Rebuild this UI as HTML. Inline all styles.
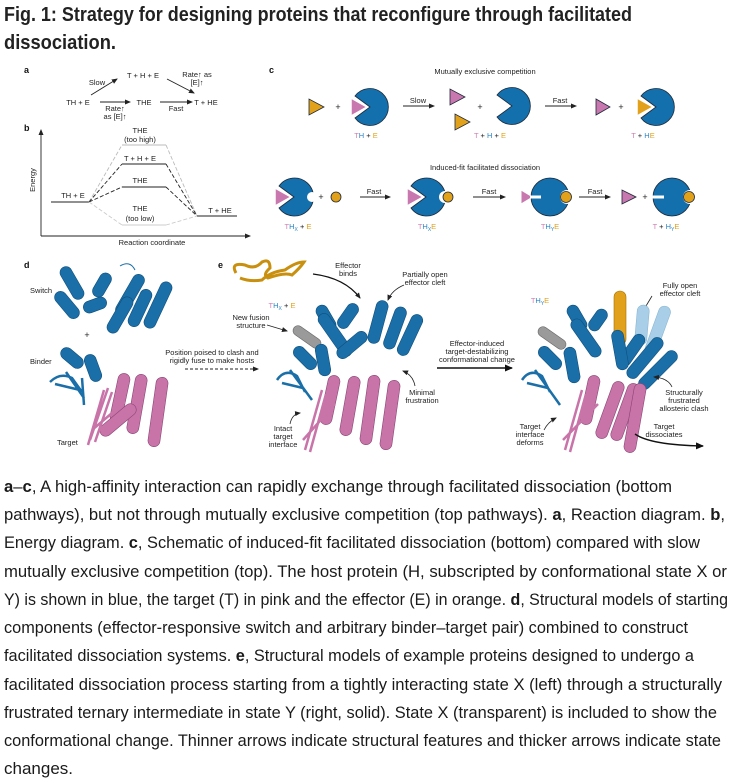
<!DOCTYPE html>
<html><head><meta charset="utf-8">
<style>
html,body{margin:0;padding:0;background:#fff;}
svg{display:block;}
.t{font-family:"Liberation Sans",sans-serif;font-size:7.5px;fill:#222;}
.lbl{font-family:"Liberation Sans",sans-serif;font-size:9px;font-weight:bold;fill:#111;}
.cap{font-family:"Liberation Sans",sans-serif;font-size:17px;fill:#1a1a1a;}
</style></head>
<body>
<svg width="730" height="783" viewBox="0 0 730 783" xmlns="http://www.w3.org/2000/svg">
<defs>
<marker id="ah" markerWidth="6" markerHeight="6" refX="5" refY="3" orient="auto" markerUnits="userSpaceOnUse"><path d="M0,0.5 L6,3 L0,5.5 Z" fill="#222"/></marker>
<marker id="ahb" markerWidth="8" markerHeight="8" refX="7" refY="4" orient="auto" markerUnits="userSpaceOnUse"><path d="M0,0.5 L8,4 L0,7.5 Z" fill="#111"/></marker>
</defs>
<text x="4" y="21" textLength="628" lengthAdjust="spacingAndGlyphs" style="font-family:'Liberation Sans Narrow','Liberation Sans',sans-serif;font-weight:bold;font-size:20px;fill:#222">Fig. 1: Strategy for designing proteins that reconfigure through facilitated</text>
<text x="4" y="49" textLength="112" lengthAdjust="spacingAndGlyphs" style="font-family:'Liberation Sans Narrow','Liberation Sans',sans-serif;font-weight:bold;font-size:20px;fill:#222">dissociation.</text>

<text class="lbl" x="24" y="73">a</text>
<text class="t" x="143" y="78" text-anchor="middle">T + H + E</text>
<text class="t" x="97" y="85" text-anchor="middle">Slow</text>
<text class="t" x="197" y="77" text-anchor="middle">Rate↑ as</text>
<text class="t" x="197" y="85" text-anchor="middle">[E]↑</text>
<text class="t" x="78" y="105" text-anchor="middle">TH + E</text>
<text class="t" x="144" y="105" text-anchor="middle">THE</text>
<text class="t" x="206" y="105" text-anchor="middle">T + HE</text>
<text class="t" x="115" y="111" text-anchor="middle">Rate↑</text>
<text class="t" x="115" y="119" text-anchor="middle">as [E]↑</text>
<text class="t" x="176" y="111" text-anchor="middle">Fast</text>
<g stroke="#222" stroke-width="0.9" fill="none">
<line x1="91" y1="95" x2="117" y2="79" marker-end="url(#ah)"/>
<line x1="167" y1="79" x2="194" y2="93" marker-end="url(#ah)"/>
<line x1="100" y1="102" x2="130" y2="102" marker-end="url(#ah)"/>
<line x1="160" y1="102" x2="192" y2="102" marker-end="url(#ah)"/>
</g>

<text class="lbl" x="24" y="131">b</text>
<g stroke="#222" stroke-width="0.9" fill="none">
<line x1="41" y1="236" x2="41" y2="130" marker-end="url(#ah)"/>
<line x1="41" y1="236" x2="250" y2="236" marker-end="url(#ah)"/>
</g>
<text class="t" transform="translate(35,180) rotate(-90)" text-anchor="middle">Energy</text>
<text class="t" x="152" y="245" text-anchor="middle">Reaction coordinate</text>
<g stroke-width="1">
<line x1="51" y1="202" x2="89" y2="202" stroke="#222"/>
<line x1="197" y1="216" x2="237" y2="216" stroke="#222"/>
<line x1="122" y1="145" x2="166" y2="145" stroke="#bbb"/>
<line x1="122" y1="164" x2="166" y2="164" stroke="#222"/>
<line x1="122" y1="187" x2="166" y2="187" stroke="#222"/>
<line x1="122" y1="225" x2="166" y2="225" stroke="#ccc"/>
</g>
<g fill="none" stroke-dasharray="4,2" stroke-width="0.9">
<path d="M89,202 L122,145 M166,145 L197,216" stroke="#bbb"/>
<path d="M89,202 L122,164 M166,164 L197,216" stroke="#222"/>
<path d="M89,202 L122,187 M166,187 L197,216" stroke="#222"/>
<path d="M89,202 L122,225 M166,225 L197,216" stroke="#ccc"/>
</g>
<text class="t" x="73" y="198" text-anchor="middle">TH + E</text>
<text class="t" x="220" y="213" text-anchor="middle">T + HE</text>
<text class="t" x="140" y="133" text-anchor="middle">THE</text>
<text class="t" x="140" y="142" text-anchor="middle">(too high)</text>
<text class="t" x="140" y="161" text-anchor="middle">T + H + E</text>
<text class="t" x="140" y="183" text-anchor="middle">THE</text>
<text class="t" x="140" y="211" text-anchor="middle">THE</text>
<text class="t" x="140" y="221" text-anchor="middle">(too low)</text>

<text class="lbl" x="269" y="73">c</text>
<text class="t" x="485" y="74" text-anchor="middle">Mutually exclusive competition</text>
<g stroke="#1d2a3a" stroke-width="0.8">
<polygon points="309,99 309,115 324,107" fill="#e2a11a"/>
<path d="M370,107 L355,96 A18.5,18.5 0 1 1 355,118 Z" fill="#1470ad"/>
<polygon points="351,98 351,116 367,107" fill="#c878ae" stroke="#fff" stroke-width="1.5"/>
<polygon points="450,89 450,105 465,97" fill="#c878ae"/>
<polygon points="455,114 455,130 470,122" fill="#e2a11a"/>
<path d="M512,106 L497,95 A18.5,18.5 0 1 1 497,117 Z" fill="#1470ad"/>
<polygon points="596,99 596,115 610,107" fill="#c878ae"/>
<path d="M656,107 L641,96 A18.5,18.5 0 1 1 641,118 Z" fill="#1470ad"/>
<polygon points="637,98 637,116 653,107" fill="#e2a11a" stroke="#fff" stroke-width="1.5"/>
<path d="M294,197 L279,186 A19,19 0 1 1 279,208 Z" fill="#1470ad"/>
<circle cx="312" cy="197" r="5" fill="#fff" stroke="none"/>
<polygon points="275,188 275,206 291,197" fill="#c878ae" stroke="#fff" stroke-width="1.5"/>
<circle cx="336" cy="197" r="5" fill="#e2a11a"/>
<path d="M426,197 L411,186 A19,19 0 1 1 411,208 Z" fill="#1470ad"/>
<circle cx="445" cy="197" r="6" fill="#fff" stroke="none"/>
<circle cx="448" cy="197" r="5" fill="#e2a11a"/>
<polygon points="407,188 407,206 423,197" fill="#c878ae" stroke="#fff" stroke-width="1.5"/>
<circle cx="550" cy="197" r="19" fill="#1470ad"/>
<polygon points="521,190 531,196 531,198 521,204" fill="#c878ae" stroke="#fff" stroke-width="1"/>
<rect x="530" y="195.5" width="11" height="3" fill="#fff" stroke="none"/>
<circle cx="567" cy="197" r="7" fill="#fff" stroke="none"/>
<circle cx="566" cy="197" r="5.5" fill="#e2a11a"/>
<polygon points="622,190 622,204 636,197" fill="#c878ae"/>
<circle cx="672" cy="197" r="19" fill="#1470ad"/>
<rect x="652" y="195.5" width="12" height="3" fill="#fff" stroke="none"/>
<circle cx="690" cy="197" r="7" fill="#fff" stroke="none"/>
<circle cx="689" cy="197" r="5.5" fill="#e2a11a"/>
</g>
<g class="t" style="font-size:9px">
<text x="338" y="110" text-anchor="middle">+</text>
<text x="480" y="110" text-anchor="middle">+</text>
<text x="621" y="110" text-anchor="middle">+</text>
<text x="321" y="200" text-anchor="middle">+</text>
<text x="645" y="200" text-anchor="middle">+</text>
</g>
<g stroke="#222" stroke-width="0.9">
<line x1="403" y1="106" x2="434" y2="106" marker-end="url(#ah)"/>
<line x1="545" y1="106" x2="576" y2="106" marker-end="url(#ah)"/>
<line x1="360" y1="197" x2="390" y2="197" marker-end="url(#ah)"/>
<line x1="473" y1="197" x2="505" y2="197" marker-end="url(#ah)"/>
<line x1="579" y1="197" x2="610" y2="197" marker-end="url(#ah)"/>
</g>
<text class="t" x="418" y="103" text-anchor="middle">Slow</text>
<text class="t" x="560" y="103" text-anchor="middle">Fast</text>
<text class="t" x="374" y="194" text-anchor="middle">Fast</text>
<text class="t" x="489" y="194" text-anchor="middle">Fast</text>
<text class="t" x="595" y="194" text-anchor="middle">Fast</text>
<text class="t" x="366" y="138" text-anchor="middle"><tspan fill="#d07fb3">T</tspan><tspan fill="#2a86c6">H</tspan> + <tspan fill="#e2a11a">E</tspan></text>
<text class="t" x="490" y="138" text-anchor="middle"><tspan fill="#d07fb3">T</tspan> + <tspan fill="#2a86c6">H</tspan> + <tspan fill="#e2a11a">E</tspan></text>
<text class="t" x="643" y="138" text-anchor="middle"><tspan fill="#d07fb3">T</tspan> + <tspan fill="#2a86c6">H</tspan><tspan fill="#e2a11a">E</tspan></text>
<text class="t" x="485" y="170" text-anchor="middle">Induced-fit facilitated dissociation</text>
<text class="t" x="298" y="229" text-anchor="middle"><tspan fill="#d07fb3">T</tspan><tspan fill="#2a86c6">H<tspan font-size="5" dy="2">X</tspan></tspan><tspan dy="-2"> + </tspan><tspan fill="#e2a11a">E</tspan></text>
<text class="t" x="427" y="229" text-anchor="middle"><tspan fill="#d07fb3">T</tspan><tspan fill="#2a86c6">H<tspan font-size="5" dy="2">X</tspan></tspan><tspan fill="#e2a11a" dy="-2">E</tspan></text>
<text class="t" x="550" y="229" text-anchor="middle"><tspan fill="#d07fb3">T</tspan><tspan fill="#2a86c6">H<tspan font-size="5" dy="2">Y</tspan></tspan><tspan fill="#e2a11a" dy="-2">E</tspan></text>
<text class="t" x="666" y="229" text-anchor="middle"><tspan fill="#d07fb3">T</tspan> + <tspan fill="#2a86c6">H<tspan font-size="5" dy="2">Y</tspan></tspan><tspan fill="#e2a11a" dy="-2">E</tspan></text>

<text class="lbl" x="24" y="268">d</text>
<text class="t" x="30" y="293">Switch</text>
<text class="t" x="87" y="338" text-anchor="middle" style="font-size:9px">+</text>
<text class="t" x="30" y="364">Binder</text>
<text class="t" x="57" y="445">Target</text>
<g stroke="#0f4f7c" stroke-width="0.6">
<g fill="#1a6fa8">
<rect x="-6" y="-18" width="12" height="36" rx="6" transform="translate(72,283) rotate(-30)"/>
<rect x="-6" y="-16" width="12" height="32" rx="6" transform="translate(67,305) rotate(-40)"/>
<rect x="-6" y="-13" width="12" height="26" rx="6" transform="translate(102,285) rotate(30)"/>
<rect x="-6" y="-12" width="12" height="24" rx="6" transform="translate(95,305) rotate(70)"/>
<rect x="-6" y="-23" width="12" height="46" rx="6" transform="translate(130,295) rotate(30)"/>
<rect x="-6" y="-20" width="12" height="40" rx="6" transform="translate(140,308) rotate(25)"/>
<rect x="-6" y="-25" width="12" height="50" rx="6" transform="translate(158,305) rotate(25)"/>
<rect x="-6" y="-20" width="12" height="40" rx="6" transform="translate(120,315) rotate(30)"/>
<rect x="-6" y="-13" width="12" height="26" rx="6" transform="translate(72,358) rotate(-50)"/>
<rect x="-6" y="-14" width="12" height="28" rx="6" transform="translate(93,368) rotate(-20)"/>
</g>
<path d="M50,382 Q60,372 72,378 L82,392 M55,384 L80,390 M66,372 L84,398 M82,378 L84,405" stroke="#1a6fa8" stroke-width="2.5" fill="none"/>
<path d="M120,266 Q130,260 135,270" fill="none" stroke="#1a6fa8" stroke-width="1"/>
<g fill="#c874a9" stroke="#8a4574">
<rect x="-6" y="-25" width="12" height="50" rx="6" transform="translate(120,398) rotate(12)"/>
<rect x="-6" y="-30" width="12" height="60" rx="6" transform="translate(137,404) rotate(10)"/>
<rect x="-6" y="-35" width="12" height="70" rx="6" transform="translate(158,412) rotate(8)"/>
<rect x="-6" y="-22" width="12" height="44" rx="6" transform="translate(118,420) rotate(50)"/>
</g>
<path d="M90,440 L108,388 M95,442 L112,392 M92,430 L125,402 M88,445 L104,390" stroke="#c874a9" stroke-width="2.5" fill="none"/>
</g>

<text class="t" x="212" y="355" text-anchor="middle">Position poised to clash and</text>
<text class="t" x="212" y="363" text-anchor="middle">rigidly fuse to make hosts</text>
<line x1="185" y1="369" x2="258" y2="369" stroke="#222" stroke-width="0.9" stroke-dasharray="3,2" marker-end="url(#ah)"/>

<text class="lbl" x="218" y="268">e</text>
<path d="M236,273 Q230,262 245,265 Q255,270 262,262 Q270,258 270,268 Q262,275 268,278 Q285,272 292,275 Q300,268 304,262 Q296,262 285,270 Q270,272 262,280 Q250,282 240,278" fill="none" stroke="#c8900e" stroke-width="3"/>
<text class="t" x="348" y="268" text-anchor="middle">Effector</text>
<text class="t" x="348" y="276" text-anchor="middle">binds</text>
<path d="M313,274 Q345,278 360,298" fill="none" stroke="#111" stroke-width="1.2" marker-end="url(#ah)"/>
<text class="t" x="282" y="308" text-anchor="middle"><tspan fill="#d07fb3">T</tspan><tspan fill="#2a86c6">H<tspan font-size="5" dy="2">X</tspan></tspan><tspan dy="-2"> + </tspan><tspan fill="#e2a11a">E</tspan></text>
<text class="t" x="251" y="320" text-anchor="middle">New fusion</text>
<text class="t" x="251" y="328" text-anchor="middle">structure</text>
<line x1="267" y1="325" x2="287" y2="331" stroke="#222" stroke-width="0.8" marker-end="url(#ah)"/>
<text class="t" x="425" y="277" text-anchor="middle">Partially open</text>
<text class="t" x="425" y="285" text-anchor="middle">effector cleft</text>
<path d="M404,285 Q392,290 388,300" fill="none" stroke="#222" stroke-width="0.8" marker-end="url(#ah)"/>
<g stroke="#0f4f7c" stroke-width="0.6">
<rect x="-5" y="-16" width="10" height="32" rx="5" transform="translate(307,337) rotate(-55)" fill="#9a9a9a" stroke="#666"/>
<g fill="#1a6fa8">
<rect x="-6" y="-14" width="12" height="28" rx="6" transform="translate(326,318) rotate(-30)"/>
<rect x="-6" y="-14" width="12" height="28" rx="6" transform="translate(348,316) rotate(35)"/>
<rect x="-6" y="-25" width="12" height="50" rx="6" transform="translate(335,335) rotate(-35)"/>
<rect x="-6" y="-14" width="12" height="28" rx="6" transform="translate(305,358) rotate(-45)"/>
<rect x="-6" y="-16" width="12" height="32" rx="6" transform="translate(323,360) rotate(-10)"/>
<rect x="-6" y="-18" width="12" height="36" rx="6" transform="translate(352,345) rotate(50)"/>
<rect x="-6" y="-22" width="12" height="44" rx="6" transform="translate(378,322) rotate(15)"/>
<rect x="-6" y="-22" width="12" height="44" rx="6" transform="translate(395,328) rotate(20)"/>
<rect x="-6" y="-22" width="12" height="44" rx="6" transform="translate(410,335) rotate(25)"/>
</g>
<path d="M277,380 Q285,368 297,376 L305,392 M282,383 L303,388 M290,370 L312,400" stroke="#1a6fa8" stroke-width="2.5" fill="none"/>
<g fill="#c874a9" stroke="#8a4574">
<rect x="-6" y="-25" width="12" height="50" rx="6" transform="translate(330,400) rotate(12)"/>
<rect x="-6" y="-30" width="12" height="60" rx="6" transform="translate(350,406) rotate(10)"/>
<rect x="-6" y="-35" width="12" height="70" rx="6" transform="translate(370,410) rotate(8)"/>
<rect x="-6" y="-35" width="12" height="70" rx="6" transform="translate(390,415) rotate(8)"/>
</g>
<path d="M305,450 L322,390 M310,452 L326,394 M303,440 L335,404" stroke="#c874a9" stroke-width="2.5" fill="none"/>
</g>
<text class="t" x="283" y="431" text-anchor="middle">Intact</text>
<text class="t" x="283" y="439" text-anchor="middle">target</text>
<text class="t" x="283" y="447" text-anchor="middle">interface</text>
<path d="M290,424 Q292,414 300,413" fill="none" stroke="#222" stroke-width="0.8" marker-end="url(#ah)"/>
<text class="t" x="422" y="395" text-anchor="middle">Minimal</text>
<text class="t" x="422" y="403" text-anchor="middle">frustration</text>
<path d="M415,386 Q413,375 403,371" fill="none" stroke="#222" stroke-width="0.8" marker-end="url(#ah)"/>

<text class="t" x="477" y="346" text-anchor="middle">Effector-induced</text>
<text class="t" x="477" y="354" text-anchor="middle">target-destabilizing</text>
<text class="t" x="477" y="362" text-anchor="middle">conformational change</text>
<line x1="437" y1="368" x2="512" y2="368" stroke="#111" stroke-width="1.5" marker-end="url(#ahb)"/>

<text class="t" x="540" y="303" text-anchor="middle"><tspan fill="#d07fb3">T</tspan><tspan fill="#2a86c6">H<tspan font-size="5" dy="2">Y</tspan></tspan><tspan fill="#e2a11a" dy="-2">E</tspan></text>
<text class="t" x="680" y="288" text-anchor="middle">Fully open</text>
<text class="t" x="680" y="296" text-anchor="middle">effector cleft</text>
<line x1="652" y1="296" x2="640" y2="316" stroke="#222" stroke-width="0.8" marker-end="url(#ah)"/>
<g stroke="#0f4f7c" stroke-width="0.6">
<g fill="#a9cfe8" stroke="#8ab6d4">
<rect x="-6" y="-20" width="12" height="40" rx="6" transform="translate(642,325) rotate(5)"/>
<rect x="-6" y="-25" width="12" height="50" rx="6" transform="translate(658,330) rotate(20)"/>
</g>
<rect x="-6" y="-27" width="12" height="54" rx="6" transform="translate(620,318)" fill="#e2a11a" stroke="#a66f00"/>
<rect x="-5" y="-16" width="10" height="32" rx="5" transform="translate(552,338) rotate(-55)" fill="#9a9a9a" stroke="#666"/>
<g fill="#1a6fa8">
<rect x="-6" y="-14" width="12" height="28" rx="6" transform="translate(577,318) rotate(-30)"/>
<rect x="-6" y="-12" width="12" height="24" rx="6" transform="translate(598,320) rotate(35)"/>
<rect x="-6" y="-22" width="12" height="44" rx="6" transform="translate(586,338) rotate(-35)"/>
<rect x="-6" y="-14" width="12" height="28" rx="6" transform="translate(550,358) rotate(-45)"/>
<rect x="-6" y="-18" width="12" height="36" rx="6" transform="translate(572,365) rotate(-10)"/>
<rect x="-6" y="-18" width="12" height="36" rx="6" transform="translate(632,350) rotate(35)"/>
<rect x="-6" y="-25" width="12" height="50" rx="6" transform="translate(645,358) rotate(40)"/>
<rect x="-6" y="-20" width="12" height="40" rx="6" transform="translate(620,350) rotate(-10)"/>
<rect x="-6" y="-25" width="12" height="50" rx="6" transform="translate(658,370) rotate(45)"/>
</g>
<path d="M522,380 Q530,368 542,376 L550,392 M527,383 L548,388 M535,370 L560,405" stroke="#1a6fa8" stroke-width="2.5" fill="none"/>
<g fill="#c874a9" stroke="#8a4574">
<rect x="-6" y="-25" width="12" height="50" rx="6" transform="translate(590,400) rotate(12)"/>
<rect x="-6" y="-30" width="12" height="60" rx="6" transform="translate(610,410) rotate(20)"/>
<rect x="-6" y="-30" width="12" height="60" rx="6" transform="translate(625,412) rotate(20)"/>
<rect x="-6" y="-35" width="12" height="70" rx="6" transform="translate(635,418) rotate(10)"/>
</g>
<path d="M565,450 L582,390 M570,452 L586,394 M563,440 L598,404" stroke="#c874a9" stroke-width="2.5" fill="none"/>
</g>
<text class="t" x="684" y="395" text-anchor="middle">Structurally</text>
<text class="t" x="684" y="403" text-anchor="middle">frustrated</text>
<text class="t" x="684" y="411" text-anchor="middle">allosteric clash</text>
<path d="M672,387 Q668,378 654,377" fill="none" stroke="#222" stroke-width="0.8" marker-end="url(#ah)"/>
<text class="t" x="530" y="429" text-anchor="middle">Target</text>
<text class="t" x="530" y="437" text-anchor="middle">interface</text>
<text class="t" x="530" y="445" text-anchor="middle">deforms</text>
<path d="M544,430 Q548,422 556,418" fill="none" stroke="#222" stroke-width="0.8" marker-end="url(#ah)"/>
<text class="t" x="664" y="429" text-anchor="middle">Target</text>
<text class="t" x="664" y="437" text-anchor="middle">dissociates</text>
<path d="M635,434 Q650,445 703,446" fill="none" stroke="#111" stroke-width="1.4" marker-end="url(#ahb)"/>

<g class="cap">
<text x="4" y="492" textLength="668" lengthAdjust="spacingAndGlyphs"><tspan font-weight="bold">a</tspan>–<tspan font-weight="bold">c</tspan>, A high-affinity interaction can rapidly exchange through facilitated dissociation (bottom</text>
<text x="4" y="520" textLength="721" lengthAdjust="spacingAndGlyphs">pathways), but not through mutually exclusive competition (top pathways). <tspan font-weight="bold">a</tspan>, Reaction diagram. <tspan font-weight="bold">b</tspan>,</text>
<text x="4" y="548" textLength="696" lengthAdjust="spacingAndGlyphs">Energy diagram. <tspan font-weight="bold">c</tspan>, Schematic of induced-fit facilitated dissociation (bottom) compared with slow</text>
<text x="4" y="577" textLength="723" lengthAdjust="spacingAndGlyphs">mutually exclusive competition (top). The host protein (H, subscripted by conformational state X or</text>
<text x="4" y="605" textLength="724" lengthAdjust="spacingAndGlyphs">Y) is shown in blue, the target (T) in pink and the effector (E) in orange. <tspan font-weight="bold">d</tspan>, Structural models of starting</text>
<text x="4" y="633" textLength="684" lengthAdjust="spacingAndGlyphs">components (effector-responsive switch and arbitrary binder–target pair) combined to construct</text>
<text x="4" y="661" textLength="690" lengthAdjust="spacingAndGlyphs">facilitated dissociation systems. <tspan font-weight="bold">e</tspan>, Structural models of example proteins designed to undergo a</text>
<text x="4" y="690" textLength="718" lengthAdjust="spacingAndGlyphs">facilitated dissociation process starting from a tightly interacting state X (left) through a structurally</text>
<text x="4" y="718" textLength="713" lengthAdjust="spacingAndGlyphs">frustrated ternary intermediate in state Y (right, solid). State X (transparent) is included to show the</text>
<text x="4" y="746" textLength="717" lengthAdjust="spacingAndGlyphs">conformational change. Thinner arrows indicate structural features and thicker arrows indicate state</text>
<text x="4" y="774">changes.</text>
</g>
</svg>
</body></html>
